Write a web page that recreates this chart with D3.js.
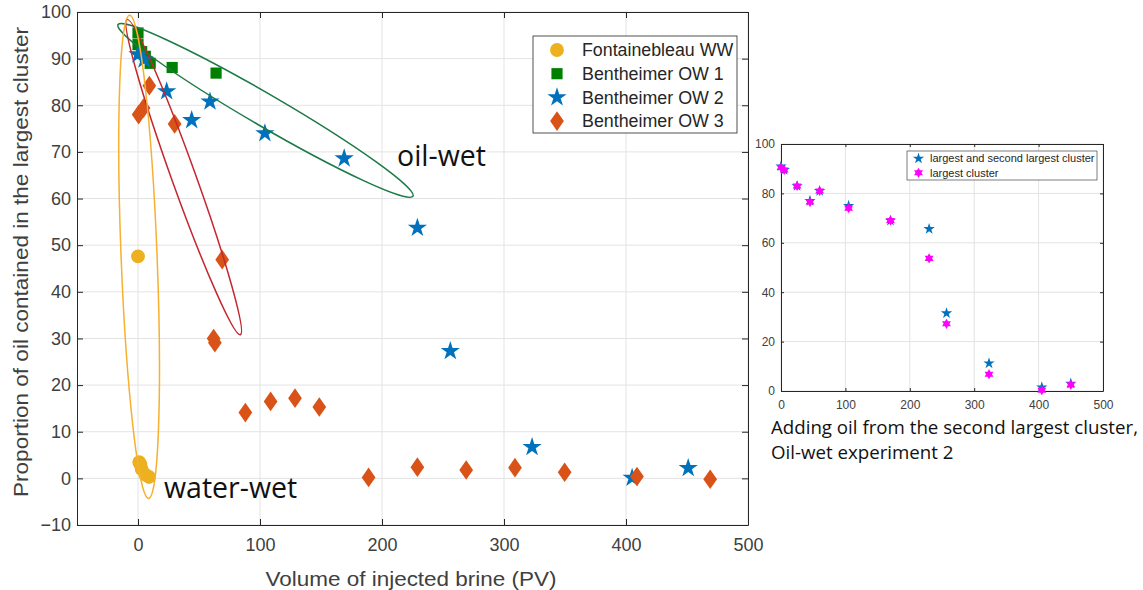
<!DOCTYPE html>
<html>
<head>
<meta charset="utf-8">
<script src="https://cdn.jsdelivr.net/npm/d3@7"></script>
<style>
  body { margin: 0; background: #fff; }
  svg { display: block; }
</style>
</head>
<body>
<svg id="chart" width="1143" height="590"></svg>
<script>
// main chart data
const series = ["Fontainebleau WW", "Bentheimer OW 1", "Bentheimer OW 2", "Bentheimer OW 3"];

const wwX = [0, 1, 2, 3, 6, 9];
const wwY = [47.6, 3.5, 3.0, 2.0, 0.8, 0.3];

const ow1X = [0, 0, 3, 6, 10, 28, 64];
const ow1Y = [95.5, 93, 91.5, 90.5, 89, 88.1, 86.9];

const ow2X = [0, 5, 23.5, 44, 59, 104, 169, 229, 256, 323, 405, 451];
const ow2Y = [90.9, 89.8, 83, 76.8, 80.8, 74, 68.6, 53.7, 27.3, 6.7, 0.1, 2.2];

const ow3X = [0.5, 4.5, 9.3, 30, 69, 62, 63, 88, 108.7, 128.7, 148.6, 189, 229, 269, 309, 349.7, 409, 469];
const ow3Y = [78, 79.4, 84.2, 76, 46.9, 30, 29.1, 14.1, 16.5, 17.2, 15.3, 0.2, 2.4, 1.8, 2.3, 1.3, 0.4, -0.2];

const xTicks = [0, 100, 200, 300, 400, 500];
const yTicks = [-10, 0, 10, 20, 30, 40, 50, 60, 70, 80, 90, 100];

// hand drawn ellipses, ends given in data units
const ellipseNames = ["oil-wet group", "OW 3 group", "water-wet group"];
const ellipseEnds = [
  [[-16.4, 97.3], [225.4, 60.5]],
  [[-9, 98.4], [83.9, 30.8]],
  [[-6.9, 99.3], [8.7, -4.3]]
];

// inset data
const insetSeries = ["largest and second largest cluster", "largest cluster"];
const insetX = [0, 5, 25, 45, 60, 105, 170, 230, 257, 323, 405, 450];
const bothY = [91, 89.5, 83, 77, 81, 75, 69, 65.6, 31.5, 11.2, 1.5, 3];
const largestY = [90.5, 89.5, 83, 76.5, 81, 74, 69, 53.7, 27.2, 6.8, 0.3, 2.5];
const insetXTicks = [0, 100, 200, 300, 400, 500];
const insetYTicks = [0, 20, 40, 60, 80, 100];

const svg = d3.select("#chart");
const tickFont = "Liberation Sans, Arial, sans-serif";
const noteFont = "Open Sans, sans-serif";

// custom symbols
const diamond = {
  draw(ctx, size) {
    const h = Math.sqrt(size / 1.4);
    const w = h * 0.7;
    ctx.moveTo(0, -h); ctx.lineTo(w, 0); ctx.lineTo(0, h); ctx.lineTo(-w, 0); ctx.closePath();
  }
};
const hexagram = {
  draw(ctx, size) {
    const r = Math.sqrt(size / 2);
    const ri = r * 0.577;
    for (let i = 0; i < 12; i++) {
      const a = Math.PI / 6 * i - Math.PI / 2;
      const rr = i % 2 === 0 ? r : ri;
      if (i === 0) ctx.moveTo(rr * Math.cos(a), rr * Math.sin(a));
      else ctx.lineTo(rr * Math.cos(a), rr * Math.sin(a));
    }
    ctx.closePath();
  }
};

const colors = ["#EDB120", "#008000", "#0072BD", "#D95319"];
const symbols = [
  d3.symbol(d3.symbolCircle, 150),
  d3.symbol(d3.symbolSquare, 125),
  d3.symbol(d3.symbolStar, 115),
  d3.symbol(diamond, 135)
];

function drawFrame(g, x, y, xt, yt, fs, tickLen) {
  const [x0, x1] = x.range();
  const [y0, y1] = y.range();
  // grid
  g.append("g").selectAll("line").data(xt).join("line")
    .attr("x1", d => x(d)).attr("x2", d => x(d))
    .attr("y1", y0).attr("y2", y1)
    .attr("stroke", "#e3e3e3").attr("stroke-width", 1);
  g.append("g").selectAll("line").data(yt).join("line")
    .attr("x1", x0).attr("x2", x1)
    .attr("y1", d => y(d)).attr("y2", d => y(d))
    .attr("stroke", "#e3e3e3").attr("stroke-width", 1);

  const bottom = g.append("g").attr("transform", `translate(0,${y0})`)
    .call(d3.axisBottom(x).tickValues(xt).tickSizeInner(-tickLen).tickSizeOuter(0).tickPadding(fs * 0.75));
  const left = g.append("g").attr("transform", `translate(${x0},0)`)
    .call(d3.axisLeft(y).tickValues(yt).tickSizeInner(-tickLen).tickSizeOuter(0).tickPadding(6));
  const top = g.append("g").attr("transform", `translate(0,${y1})`)
    .call(d3.axisTop(x).tickValues(xt).tickSizeInner(-tickLen).tickSizeOuter(0).tickFormat(""));
  const right = g.append("g").attr("transform", `translate(${x1},0)`)
    .call(d3.axisRight(y).tickValues(yt).tickSizeInner(-tickLen).tickSizeOuter(0).tickFormat(""));
  [bottom, left, top, right].forEach(a => {
    a.select(".domain").attr("stroke", "#262626");
    a.selectAll(".tick line").attr("stroke", "#262626");
    a.selectAll("text").attr("fill", "#404040")
      .style("font-family", tickFont).style("font-size", fs + "px");
  });
}

// ---------- main chart ----------
const x = d3.scaleLinear().domain([-50, 500]).range([77, 748]);
const y = d3.scaleLinear().domain([-10, 100]).range([525, 12]);
const main = svg.append("g");
drawFrame(main, x, y, xTicks, yTicks, 18, 6);

main.append("text")
  .attr("x", 411)
  .attr("y", 586)
  .attr("text-anchor", "middle")
  .attr("fill", "#404040")
  .attr("textLength", 291).attr("lengthAdjust", "spacingAndGlyphs")
  .style("font-family", tickFont).style("font-size", "21px")
  .text("Volume of injected brine (PV)");

main.append("text")
  .attr("transform", "translate(28,262) rotate(-90)")
  .attr("text-anchor", "middle")
  .attr("fill", "#404040")
  .attr("textLength", 470).attr("lengthAdjust", "spacingAndGlyphs")
  .style("font-family", tickFont).style("font-size", "20.5px")
  .text("Proportion of oil contained in the largest cluster");

const allSeries = [
  d3.zip(wwX, wwY),
  d3.zip(ow1X, ow1Y),
  d3.zip(ow2X, ow2Y),
  d3.zip(ow3X, ow3Y)
];

allSeries.forEach((pts, i) => {
  main.append("g").selectAll("path").data(pts).join("path")
    .attr("transform", d => `translate(${x(d[0])},${y(d[1])})`)
    .attr("d", symbols[i]())
    .attr("fill", colors[i]);
});

// ellipses
const ellipseColors = ["#1b7a46", "#c4262e", "#f7b030"];
const ellipseHalfWidths = [16, 12, 18];
ellipseEnds.forEach((ends, i) => {
  const [ax, ay] = [x(ends[0][0]), y(ends[0][1])];
  const [bx, by] = [x(ends[1][0]), y(ends[1][1])];
  const cx = (ax + bx) / 2, cy = (ay + by) / 2;
  const rx = Math.hypot(bx - ax, by - ay) / 2;
  const ang = Math.atan2(by - ay, bx - ax) * 180 / Math.PI;
  main.append("ellipse")
    .attr("class", ellipseNames[i])
    .attr("transform", `translate(${cx},${cy}) rotate(${ang})`)
    .attr("rx", rx).attr("ry", ellipseHalfWidths[i])
    .attr("fill", "none")
    .attr("stroke", ellipseColors[i])
    .attr("stroke-width", 1.5);
});

main.append("text")
  .attr("x", 397).attr("y", 166)
  .style("font-family", noteFont).style("font-size", "28.5px")
  .attr("fill", "#111")
  .text("oil-wet");
main.append("text")
  .attr("x", 164).attr("y", 498)
  .style("font-family", noteFont).style("font-size", "28.5px")
  .attr("fill", "#111")
  .text("water-wet");

// legend
const leg = main.append("g").attr("transform", "translate(533,36)");
leg.append("rect").attr("width", 204).attr("height", 97)
  .attr("fill", "#fff").attr("stroke", "#262626").attr("stroke-width", 0.8);
series.forEach((name, i) => {
  const row = leg.append("g").attr("transform", `translate(0,${14 + i * 23.7})`);
  row.append("path")
    .attr("transform", "translate(24,0)")
    .attr("d", symbols[i]())
    .attr("fill", colors[i]);
  row.append("text")
    .attr("x", 49).attr("dy", "0.35em")
    .attr("fill", "#262626")
    .attr("textLength", name.length * 9.45).attr("lengthAdjust", "spacingAndGlyphs")
    .style("font-family", tickFont).style("font-size", "17.5px")
    .text(name);
});

// ---------- inset ----------
const ix = d3.scaleLinear().domain([0, 500]).range([781, 1103]);
const iy = d3.scaleLinear().domain([0, 100]).range([391, 144]);
const inset = svg.append("g");
drawFrame(inset, ix, iy, insetXTicks, insetYTicks, 12, 3);

const insetSym = [d3.symbol(d3.symbolStar, 40), d3.symbol(hexagram, 52)];
const insetCol = ["#0072BD", "#FF00FF"];
[d3.zip(insetX, bothY), d3.zip(insetX, largestY)].forEach((pts, i) => {
  inset.append("g").selectAll("path").data(pts).join("path")
    .attr("transform", d => `translate(${ix(d[0])},${iy(d[1])})`)
    .attr("d", insetSym[i]())
    .attr("fill", insetCol[i]);
});

const ileg = inset.append("g").attr("transform", "translate(907,151)");
ileg.append("rect").attr("width", 190).attr("height", 29)
  .attr("fill", "#fff").attr("stroke", "#262626").attr("stroke-width", 0.6);
insetSeries.forEach((name, i) => {
  const row = ileg.append("g").attr("transform", `translate(0,${7.5 + i * 14.3})`);
  row.append("path").attr("transform", "translate(11.5,0)")
    .attr("d", insetSym[i]()).attr("fill", insetCol[i]);
  row.append("text").attr("x", 23).attr("dy", "0.35em")
    .attr("fill", "#262626")
    .style("font-family", tickFont).style("font-size", "11px")
    .text(name);
});

const cap = svg.append("text")
  .style("font-family", noteFont).style("font-size", "18.7px")
  .attr("fill", "#111");
cap.append("tspan").attr("x", 771).attr("y", 434).text("Adding oil from the second largest cluster,");
cap.append("tspan").attr("x", 771).attr("y", 459).text("Oil-wet experiment 2");
</script>
</body>
</html>
